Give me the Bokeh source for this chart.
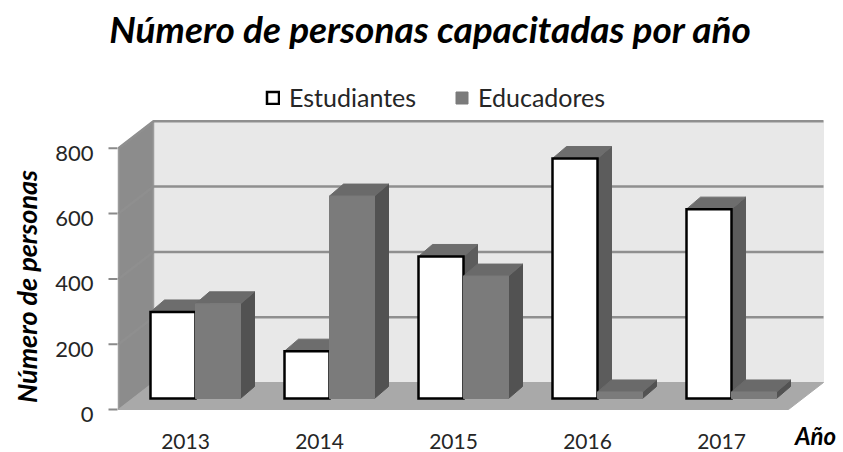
import math
from bokeh.plotting import figure
from bokeh.models import (Range1d, Label, Legend, LegendItem, ColumnDataSource)
from bokeh.core.properties import value
from bokeh.embed import file_html
from bokeh.resources import INLINE

# ---------------- data ----------------
years = ["2013", "2014", "2015", "2016", "2017"]
estudiantes = [265, 145, 435, 735, 580]
educadores = [290, 620, 375, 20, 20]
series_names = ["Estudiantes", "Educadores"]
y_ticks = [0, 200, 400, 600, 800]
y_tick_labels = ["0", "200", "400", "600", "800"]

title_text = "Número de personas capacitadas por año"
y_title = "Número de personas"
x_title = "Año"

# ---------------- layout constants ----------------
W, H = 843, 452
LEFT_PX = 118.0         # canvas x of the front-left corner of the floor
PX_CAT = 134.0          # pixels per category (front plane)
PX_VAL = 0.3265         # pixels per value unit
ZERO_PX = 409.0         # canvas y of value 0 on the front plane

def px_to_x(px):
    return (px - LEFT_PX) / PX_CAT

def py_to_v(py):
    return (ZERO_PX - py) / PX_VAL

n = len(years)
WALL_DX = 35 / PX_CAT
WALL_DV = 27 / PX_VAL
WALL_TOP = y_ticks[-1]
BAR_W = 45 / PX_CAT
BAR_OX = 10 / PX_CAT
BAR_OV = 11 / PX_VAL
BAR_DX = 14 / PX_CAT
BAR_DV = 12 / PX_VAL

FONT = "Lato"
TXT = "#262626"

p = figure(width=W, height=H, output_backend="svg", toolbar_location=None,
           x_range=Range1d(px_to_x(0), px_to_x(W)),
           y_range=Range1d(py_to_v(H), py_to_v(0)),
           min_border=0)
p.axis.visible = False
p.outline_line_color = None
p.xgrid.visible = False
p.ygrid.visible = False
p.background_fill_color = "white"
p.border_fill_color = "white"

# ---------------- walls and floor ----------------
back_x = [WALL_DX, n + WALL_DX, n + WALL_DX, WALL_DX]
back_y = [WALL_DV, WALL_DV, WALL_TOP + WALL_DV, WALL_TOP + WALL_DV]
side_x = [0, WALL_DX, WALL_DX, 0]
side_y = [0, WALL_DV, WALL_TOP + WALL_DV, WALL_TOP]
floor_x = [0, n, n + WALL_DX, WALL_DX]
floor_y = [0, 0, WALL_DV, WALL_DV]

p.patch(back_x, back_y, fill_color="#e8e8e8", line_color="#e8e8e8")
p.patch(side_x, side_y, fill_color="#8c8c8c", line_color="#9c9c9c", line_width=1.5)
p.patch(floor_x, floor_y, fill_color="#a9a9a9", line_color="#a9a9a9")

grid_xs, grid_ys = [], []
for t in y_ticks[1:]:
    grid_xs.append([0, WALL_DX, n + WALL_DX])
    grid_ys.append([t, t + WALL_DV, t + WALL_DV])
p.multi_line(grid_xs, grid_ys, line_color="#8f8f8f", line_width=2.5)

# ---------------- value axis (ticks + labels) ----------------
p.segment(x0=[px_to_x(108)] * len(y_ticks), y0=y_ticks,
          x1=[px_to_x(117)] * len(y_ticks), y1=y_ticks,
          line_color="#8a8a8a", line_width=2)
p.text(x=[px_to_x(93)] * len(y_ticks), y=[t - 5 / PX_VAL for t in y_ticks],
       text=y_tick_labels, text_align="right", text_baseline="alphabetic",
       text_font=value(FONT), text_font_size="22px", text_color=TXT)

# ---------------- category axis labels ----------------
centers = [i + 0.5 for i in range(n)]
p.text(x=centers, y=[py_to_v(441)] * n, text=years,
       text_align="center", text_baseline="alphabetic",
       text_font=value(FONT), text_font_size="21px", text_color=TXT)

# ---------------- 3D bars ----------------
styles = [
    dict(front="#ffffff", top="#6d6d6d", side="#5c5c5c", edge="#000000", ew=2.5),
    dict(front="#7b7b7b", top="#6a6a6a", side="#525252", edge="#7b7b7b", ew=1.0),
]
xs, ys, fills, lines, lws = [], [], [], [], []
legend_index = {}
series_vals = [estudiantes, educadores]
for i in range(n):
    for s, vals in enumerate(series_vals):
        v = vals[i]
        st = styles[s]
        xl = i + 0.5 + BAR_OX - BAR_W + s * BAR_W
        xr = xl + BAR_W
        vb = BAR_OV
        vt = BAR_OV + v
        # side face
        xs.append([xr, xr + BAR_DX, xr + BAR_DX, xr])
        ys.append([vb, vb + BAR_DV, vt + BAR_DV, vt])
        fills.append(st["side"]); lines.append(st["side"]); lws.append(1.0)
        # top face
        xs.append([xl, xr, xr + BAR_DX, xl + BAR_DX])
        ys.append([vt, vt, vt + BAR_DV, vt + BAR_DV])
        fills.append(st["top"]); lines.append(st["top"]); lws.append(1.0)
        # front face
        if s not in legend_index:
            legend_index[s] = len(xs)
        xs.append([xl, xr, xr, xl])
        ys.append([vb, vb, vt, vt])
        fills.append(st["front"]); lines.append(st["edge"]); lws.append(st["ew"])

src = ColumnDataSource(dict(xs=xs, ys=ys, fill=fills, line=lines, lw=lws))
bars = p.patches("xs", "ys", source=src, fill_color="fill", line_color="line",
                 line_width="lw", line_join="miter")

# ---------------- legend ----------------
legend = Legend(items=[
    LegendItem(label=series_names[0], renderers=[bars], index=legend_index[0]),
    LegendItem(label=series_names[1], renderers=[bars], index=legend_index[1]),
], orientation="horizontal", location=(265, H - 112),
   glyph_width=15, glyph_height=15, label_standoff=9, spacing=38,
   padding=0, margin=0, border_line_color=None, background_fill_alpha=0,
   label_text_font=FONT, label_text_font_size="25px", label_text_color=TXT)
p.add_layout(legend)

# ---------------- texts ----------------
p.add_layout(Label(x=px_to_x(430), y=py_to_v(28), text=title_text,
                   text_align="center", text_baseline="alphabetic",
                   text_font=FONT, text_font_size="37px",
                   text_font_style="bold italic", text_color="black"))
p.add_layout(Label(x=px_to_x(26), y=py_to_v(286), text=y_title, angle=math.pi / 2,
                   text_align="center", text_baseline="middle",
                   text_font=FONT, text_font_size="27px",
                   text_font_style="bold italic", text_color="black"))
p.add_layout(Label(x=px_to_x(815), y=py_to_v(435), text=x_title,
                   text_align="center", text_baseline="alphabetic",
                   text_font=FONT, text_font_size="24px",
                   text_font_style="bold italic", text_color="black"))

open("out.html", "w").write(file_html(p, INLINE))
